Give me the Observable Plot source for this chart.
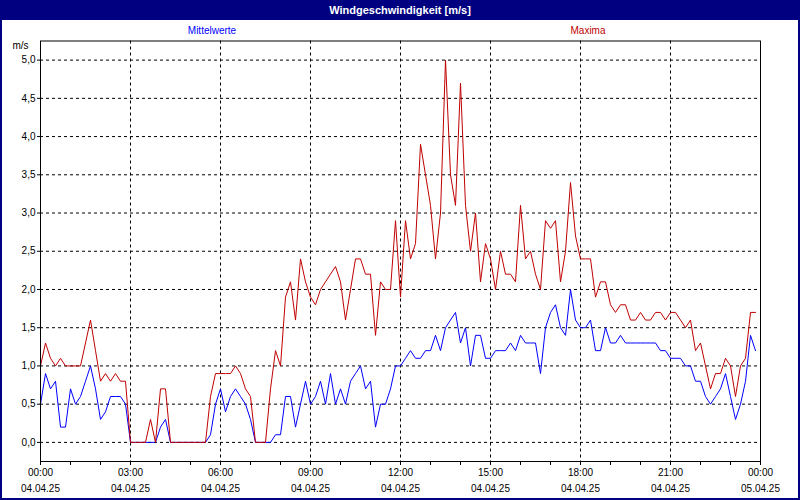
<!DOCTYPE html>
<html>
<head>
<meta charset="utf-8">
<script src="https://cdn.jsdelivr.net/npm/d3@7"></script>
<script src="https://cdn.jsdelivr.net/npm/@observablehq/plot@0.6"></script>
<style>
  html, body { margin: 0; padding: 0; background: white; }
  #wrap { position: relative; width: 800px; height: 500px; overflow: hidden; background: white;
          font-family: "Liberation Sans", Arial, sans-serif; }
  #title { position: absolute; left: 0; top: 0; width: 800px; height: 20px; background: #000080;
           color: white; font-weight: bold; font-size: 11px; line-height: 20px; text-align: center; }
  .leg { position: absolute; top: 24px; height: 14px; line-height: 14px; font-size: 10px;
         width: 200px; margin-left: -100px; text-align: center; }
  #chart { position: absolute; left: 0; top: 38px; }
  #border { position: absolute; left: 0; top: 0; width: 800px; height: 500px; box-sizing: border-box;
            border: 2px solid #000080; pointer-events: none; }
</style>
</head>
<body>
<div id="wrap">
  <div id="title">Windgeschwindigkeit [m/s]</div>
  <div class="leg" id="legMean" style="left:212px;color:#0000ff;">Mittelwerte</div>
  <div class="leg" id="legMax" style="left:588px;color:#c00000;">Maxima</div>
  <div id="chart"></div>
  <div id="border"></div>
</div>
<script>
// Series (10-minute values, 04.04.25 00:00 – 23:50)
const maxima = [
  1.0,1.3,1.1,1.0,1.1,1.0,1.0,1.0,1.0,1.3,1.6,1.2,0.8,0.9,0.8,0.9,0.8,0.8,
  0.0,0.0,0.0,0.0,0.3,0.0,0.7,0.7,0.0,0.0,0.0,0.0,0.0,0.0,0.0,0.0,0.6,0.9,
  0.9,0.9,0.9,1.0,0.9,0.7,0.6,0.0,0.0,0.0,0.7,1.2,1.0,1.9,2.1,1.6,2.4,2.1,
  1.9,1.8,2.0,2.1,2.2,2.3,2.1,1.6,2.0,2.4,2.4,2.2,2.2,1.4,2.1,2.0,2.0,2.9,
  1.9,2.9,2.4,2.6,3.9,3.5,3.1,2.4,3.0,5.0,3.5,3.1,4.7,3.1,2.5,3.0,2.1,2.6,
  2.4,2.0,2.5,2.2,2.2,2.1,3.1,2.4,2.5,2.2,2.0,2.9,2.8,2.9,2.1,2.5,3.4,2.7,
  2.4,2.4,2.4,1.9,2.1,2.1,1.8,1.7,1.8,1.8,1.6,1.6,1.7,1.6,1.6,1.7,1.7,1.6,
  1.7,1.7,1.6,1.5,1.6,1.2,1.3,1.0,0.7,0.9,0.9,1.1,1.0,0.6,1.0,1.1,1.7,1.7
];
const mittelwerte = [
  0.5,0.9,0.7,0.8,0.2,0.2,0.7,0.5,0.6,0.8,1.0,0.7,0.3,0.4,0.6,0.6,0.6,0.5,
  0.0,0.0,0.0,0.0,0.0,0.0,0.2,0.3,0.0,0.0,0.0,0.0,0.0,0.0,0.0,0.0,0.1,0.5,
  0.7,0.4,0.6,0.7,0.6,0.5,0.3,0.0,0.0,0.0,0.0,0.1,0.1,0.6,0.6,0.2,0.5,0.8,
  0.5,0.6,0.8,0.5,0.9,0.5,0.7,0.5,0.8,0.9,1.0,0.7,0.8,0.2,0.5,0.5,0.7,1.0,
  1.0,1.1,1.2,1.1,1.1,1.2,1.2,1.4,1.2,1.5,1.6,1.7,1.3,1.5,1.0,1.4,1.4,1.1,
  1.1,1.2,1.2,1.2,1.3,1.2,1.4,1.3,1.3,1.3,0.9,1.5,1.7,1.8,1.5,1.4,2.0,1.6,
  1.5,1.5,1.6,1.2,1.2,1.5,1.3,1.3,1.4,1.3,1.3,1.3,1.3,1.3,1.3,1.3,1.2,1.2,
  1.1,1.1,1.1,1.0,1.0,0.8,0.8,0.6,0.5,0.6,0.7,0.9,0.6,0.3,0.5,0.8,1.4,1.2
];
const startTime = Date.UTC(2025, 3, 4, 0, 0);
const stepMinutes = 10;
const yTicks = [0, 0.5, 1, 1.5, 2, 2.5, 3, 3.5, 4, 4.5, 5];
const xLabelHours = [0, 3, 6, 9, 12, 15, 18, 21, 24];
const xGridHours = [3, 6, 9, 12, 15, 18, 21];
const xMinorHours = [0,1,2,3,4,5,6,7,8,9,10,11,12,13,14,15,16,17,18,19,20,21,22,23,24];

const hourDate = h => new Date(startTime + h * 3600000);
const toTable = arr => arr.map((v, i) => ({t: new Date(startTime + i * stepMinutes * 60000), v}));
const maxTable = toTable(maxima);
const meanTable = toTable(mittelwerte);

const chart = Plot.plot({
  width: 800,
  height: 460,
  marginLeft: 40,
  marginRight: 40,
  marginTop: 2.5,
  marginBottom: 37,
  style: {fontFamily: "'Liberation Sans', Arial, sans-serif", fontSize: "10px", background: "white", color: "black", overflow: "visible"},
  x: {type: "utc", domain: [hourDate(0), hourDate(24)]},
  y: {domain: [-0.25, 5.25]},
  marks: [
    Plot.ruleY(yTicks, {stroke: "black", strokeDasharray: "3,3", strokeWidth: 1}),
    Plot.ruleX(xGridHours.map(hourDate), {stroke: "black", strokeDasharray: "3,3", strokeWidth: 1}),
    Plot.lineY(meanTable, {x: "t", y: "v", stroke: "#0000ff", strokeWidth: 1}),
    Plot.lineY(maxTable, {x: "t", y: "v", stroke: "#c00000", strokeWidth: 1}),
    Plot.frame({stroke: "black", strokeWidth: 1}),
    Plot.axisY({ticks: yTicks, tickFormat: d => d.toFixed(1).replace(".", ","), tickSize: 3, tickPadding: 2, label: null}),
    Plot.axisX({ticks: xMinorHours.map(hourDate), tickFormat: () => "", tickSize: 4, label: null}),
    Plot.axisX({ticks: xLabelHours.map(hourDate), tickFormat: d3.utcFormat("%H:%M"), tickSize: 0, tickPadding: 7, label: null}),
    Plot.axisX({ticks: xLabelHours.map(hourDate), tickFormat: d3.utcFormat("%d.%m.%y"), tickSize: 0, tickPadding: 23, label: null}),
    Plot.text(["m/s"], {text: d => d, frameAnchor: "top-left", dx: -20, dy: 5, textAnchor: "middle", lineAnchor: "middle"})
  ]
});
document.getElementById("chart").appendChild(chart);
</script>
</body>
</html>
